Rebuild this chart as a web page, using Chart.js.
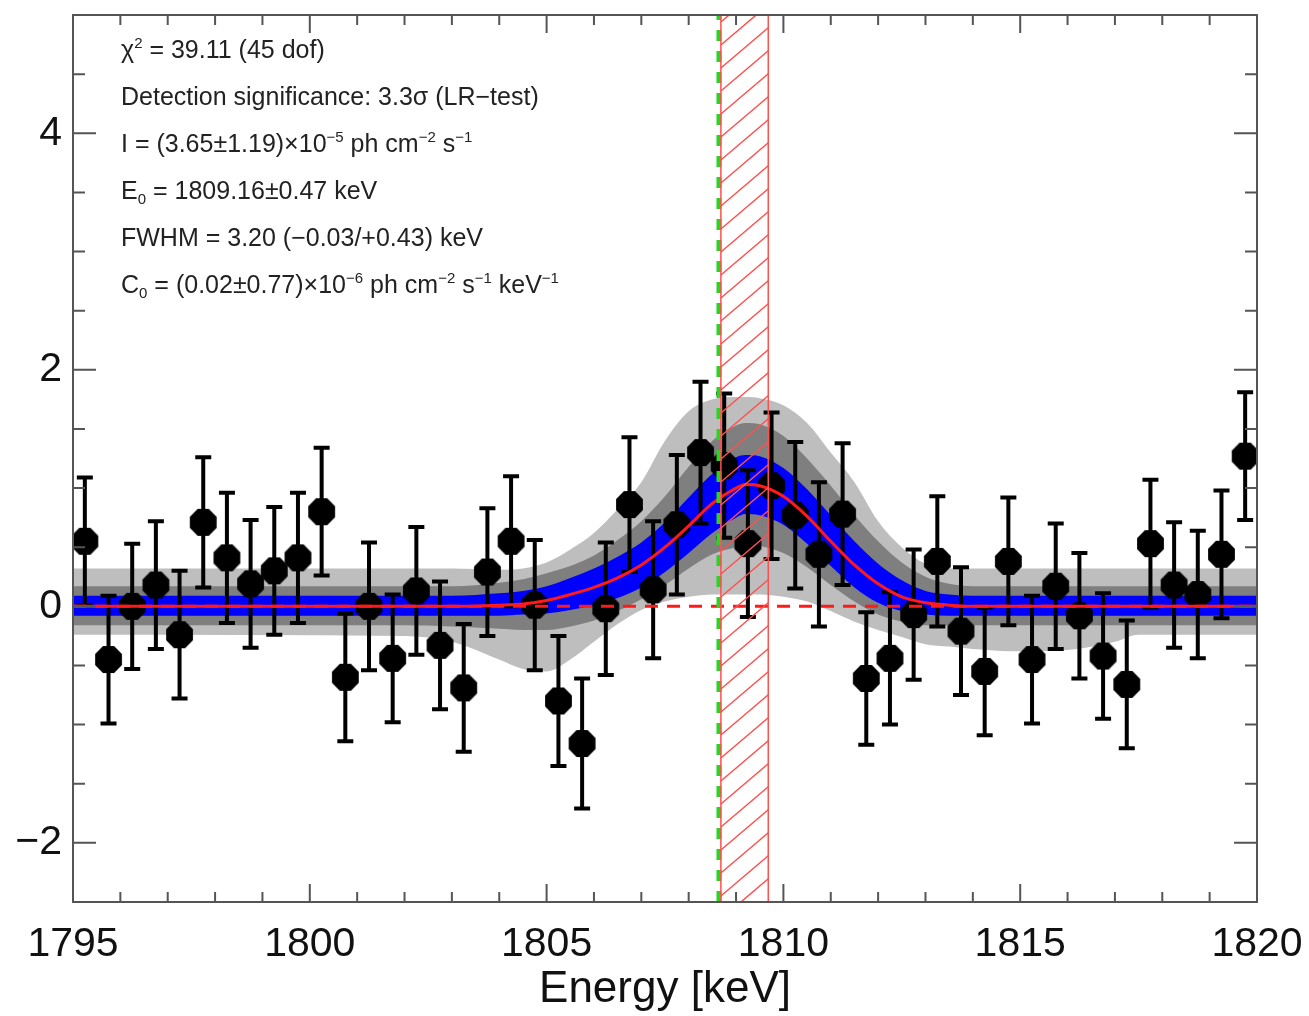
<!DOCTYPE html>
<html>
<head>
<meta charset="utf-8">
<script src="https://cdn.jsdelivr.net/npm/chart.js@4.4.0/dist/chart.umd.min.js"></script>
<style>
  html, body { margin: 0; padding: 0; background: #fff; }
  #wrap { position: relative; width: 1309px; height: 1016px; }
  #notes {
    position: absolute; left: 121px; top: 26px;
    font-family: "Liberation Sans", Arial, sans-serif; font-size: 25px; color: #222;
  }
  #notes div { height: 47px; line-height: 47px; white-space: nowrap; }
  #notes sup, #notes sub { font-size: 60%; line-height: 0; }
  #notes sup { vertical-align: 0.65em; }
  #notes sub { vertical-align: -0.3em; }
</style>
</head>
<body>
<div id="wrap">
  <canvas id="spectrum"></canvas>
  <div id="notes">
    <div>&chi;<sup>2</sup> = 39.11 (45 dof)</div>
    <div>Detection significance: 3.3&sigma; (LR&minus;test)</div>
    <div>I = (3.65&plusmn;1.19)&times;10<sup>&minus;5</sup> ph cm<sup>&minus;2</sup> s<sup>&minus;1</sup></div>
    <div>E<sub>0</sub> = 1809.16&plusmn;0.47 keV</div>
    <div>FWHM = 3.20 (&minus;0.03/+0.43) keV</div>
    <div>C<sub>0</sub> = (0.02&plusmn;0.77)&times;10<sup>&minus;6</sup> ph cm<sup>&minus;2</sup> s<sup>&minus;1</sup> keV<sup>&minus;1</sup></div>
  </div>
</div>
<script>
// measured spectrum (0.5 keV bins)
const energy = [1795.25, 1795.75, 1796.25, 1796.75, 1797.25, 1797.75, 1798.25, 1798.75, 1799.25, 1799.75,
                1800.25, 1800.75, 1801.25, 1801.75, 1802.25, 1802.75, 1803.25, 1803.75, 1804.25, 1804.75,
                1805.25, 1805.75, 1806.25, 1806.75, 1807.25, 1807.75, 1808.25, 1808.75, 1809.25, 1809.75,
                1810.25, 1810.75, 1811.25, 1811.75, 1812.25, 1812.75, 1813.25, 1813.75, 1814.25, 1814.75,
                1815.25, 1815.75, 1816.25, 1816.75, 1817.25, 1817.75, 1818.25, 1818.75, 1819.25, 1819.75];
const flux = [0.55, -0.45, 0.00, 0.18, -0.24, 0.71, 0.41, 0.19, 0.30, 0.41,
              0.80, -0.60, 0.00, -0.44, 0.13, -0.33, -0.69, 0.29, 0.55, 0.01,
              -0.80, -1.16, -0.02, 0.86, 0.14, 0.69, 1.30, 1.19, 0.53, 1.02,
              0.77, 0.44, 0.78, -0.61, -0.44, -0.07, 0.38, -0.21, -0.55, 0.38,
              -0.45, 0.17, -0.08, -0.42, -0.66, 0.53, 0.18, 0.10, 0.44, 1.27];
const fluxErr = [0.54, 0.54, 0.53, 0.54, 0.54, 0.55, 0.55, 0.54, 0.54, 0.55,
                 0.54, 0.54, 0.54, 0.54, 0.54, 0.54, 0.54, 0.54, 0.55, 0.55,
                 0.55, 0.55, 0.56, 0.57, 0.58, 0.59, 0.60, 0.61, 0.62, 0.62,
                 0.62, 0.61, 0.60, 0.56, 0.56, 0.55, 0.55, 0.54, 0.54, 0.54,
                 0.54, 0.53, 0.53, 0.53, 0.54, 0.54, 0.53, 0.54, 0.54, 0.54];

// fitted model and uncertainty bands
const modelE = [1795, 1802, 1803, 1804, 1804.5, 1805, 1805.5, 1806, 1806.5, 1807, 1807.5, 1808, 1808.5, 1809, 1809.2,
                1809.5, 1810, 1810.5, 1811, 1811.5, 1812, 1812.5, 1813, 1813.5, 1814, 1815, 1816, 1817, 1817.5, 1820];
const model = [0, 0, 0, 0.01, 0.02, 0.05, 0.10, 0.16, 0.24, 0.35, 0.50, 0.68, 0.87, 1.00, 1.03,
               1.02, 0.93, 0.76, 0.55, 0.35, 0.19, 0.08, 0.03, 0.01, 0, 0, 0, 0, 0, 0];
const blueHi = [0.09, 0.09, 0.09, 0.11, 0.13, 0.17, 0.24, 0.32, 0.42, 0.54, 0.71, 0.92, 1.12, 1.26, 1.28,
                1.27, 1.17, 0.99, 0.77, 0.55, 0.36, 0.22, 0.13, 0.10, 0.09, 0.09, 0.09, 0.09, 0.09, 0.09];
const blueLo = [-0.08, -0.08, -0.08, -0.08, -0.07, -0.06, -0.03, 0.01, 0.07, 0.16, 0.29, 0.45, 0.62, 0.75, 0.78,
                0.77, 0.69, 0.53, 0.34, 0.16, 0.03, -0.04, -0.07, -0.08, -0.08, -0.08, -0.08, -0.08, -0.08, -0.08];
const darkHi = [0.17, 0.17, 0.17, 0.20, 0.23, 0.28, 0.34, 0.43, 0.56, 0.72, 0.93, 1.18, 1.40, 1.53, 1.55,
                1.54, 1.44, 1.25, 1.02, 0.77, 0.55, 0.37, 0.25, 0.19, 0.17, 0.17, 0.17, 0.17, 0.17, 0.17];
const darkLo = [-0.16, -0.16, -0.17, -0.19, -0.20, -0.20, -0.17, -0.12, -0.04, 0.06, 0.18, 0.32, 0.44, 0.50, 0.52,
                0.51, 0.45, 0.33, 0.18, 0.04, -0.07, -0.13, -0.16, -0.16, -0.16, -0.16, -0.16, -0.16, -0.16, -0.16];
const lightHi = [0.32, 0.32, 0.32, 0.31, 0.32, 0.37, 0.48, 0.62, 0.82, 1.05, 1.40, 1.65, 1.75, 1.77, 1.77,
                 1.76, 1.70, 1.55, 1.30, 1.05, 0.72, 0.50, 0.36, 0.32, 0.32, 0.32, 0.32, 0.32, 0.32, 0.32];
const lightLo = [-0.24, -0.25, -0.30, -0.45, -0.53, -0.55, -0.45, -0.30, -0.15, -0.03, 0.04, 0.08, 0.10, 0.10, 0.10,
                 0.10, 0.08, 0.04, -0.04, -0.13, -0.20, -0.26, -0.32, -0.34, -0.36, -0.38, -0.37, -0.30, -0.24, -0.24];

// continuum, expected line position and fitted line window
const continuumE = [1795, 1820];
const continuum = [0, 0];
const expectedLine = 1808.64;
const lineWindow = [1808.68, 1809.68];

// axes
const xRange = [1795, 1820];
const yRange = [-2.5, 5];
const xMajor = [1795, 1800, 1805, 1810, 1815, 1820];
const yMajor = [-2, 0, 2, 4];

const FONT = '"Liberation Sans", Arial, Helvetica, sans-serif';

function pairs(xs, ys) {
    return xs.map((x, i) => ({ x: x, y: ys[i] }));
}

// octagon marker
function makeMarker(r) {
    const c = document.createElement('canvas');
    const s = Math.ceil(r * 2 + 2);
    c.width = s; c.height = s;
    const g = c.getContext('2d');
    g.fillStyle = '#000';
    g.beginPath();
    for (let k = 0; k < 8; k++) {
        const a = Math.PI / 8 + k * Math.PI / 4;
        const px = s / 2 + r * Math.cos(a), py = s / 2 + r * Math.sin(a);
        if (k === 0) g.moveTo(px, py); else g.lineTo(px, py);
    }
    g.closePath();
    g.fill();
    return c;
}

function band(label, ys, color, order, fillTo) {
    return {
        label: label,
        data: pairs(modelE, ys),
        showLine: true,
        borderWidth: 0,
        borderColor: 'rgba(0,0,0,0)',
        backgroundColor: color,
        pointRadius: 0,
        cubicInterpolationMode: 'monotone',
        fill: fillTo === undefined ? false : fillTo,
        order: order
    };
}

const datasets = [
    band('lightLo', lightLo, '#bebebe', 9),
    band('lightHi', lightHi, '#bebebe', 9, 0),
    band('darkLo', darkLo, '#7f7f7f', 8),
    band('darkHi', darkHi, '#7f7f7f', 8, 2),
    band('blueLo', blueLo, '#0000ff', 7),
    band('blueHi', blueHi, '#0000ff', 7, 4),
    {
        label: 'data',
        data: pairs(energy, flux),
        showLine: false,
        pointStyle: makeMarker(14.5),
        pointRadius: 14,
        order: 5
    },
    {
        label: 'continuum',
        data: pairs(continuumE, continuum),
        showLine: true,
        borderColor: '#ff1a1a',
        borderWidth: 3,
        borderDash: [13, 9],
        pointRadius: 0,
        order: 4
    },
    {
        label: 'model',
        data: pairs(modelE, model),
        showLine: true,
        borderColor: '#ff1a1a',
        borderWidth: 3,
        cubicInterpolationMode: 'monotone',
        pointRadius: 0,
        order: 3
    },
    {
        label: 'expected',
        data: [{ x: expectedLine, y: yRange[0] }, { x: expectedLine, y: yRange[1] }],
        showLine: true,
        borderColor: '#22d822',
        borderWidth: 5,
        borderDash: [11, 10],
        pointRadius: 0,
        order: 2
    }
];

const errorBars = {
    id: 'errorBars',
    beforeDatasetDraw(chart, args) {
        if (chart.data.datasets[args.index].label !== 'data') return;
        const xs = chart.scales.x, ys = chart.scales.y, ctx = chart.ctx;
        ctx.save();
        ctx.strokeStyle = '#000';
        ctx.lineWidth = 4;
        energy.forEach((e, i) => {
            const px = xs.getPixelForValue(e);
            const top = ys.getPixelForValue(flux[i] + fluxErr[i]);
            const bot = ys.getPixelForValue(flux[i] - fluxErr[i]);
            ctx.beginPath();
            ctx.moveTo(px, top); ctx.lineTo(px, bot);
            ctx.moveTo(px - 8, top); ctx.lineTo(px + 8, top);
            ctx.moveTo(px - 8, bot); ctx.lineTo(px + 8, bot);
            ctx.stroke();
        });
        ctx.restore();
    }
};

const frame = {
    id: 'frame',
    afterDatasetsDraw(chart) {
        const ctx = chart.ctx, a = chart.chartArea;
        const xs = chart.scales.x, ys = chart.scales.y;
        // hatched line window
        const x0 = xs.getPixelForValue(lineWindow[0]), x1 = xs.getPixelForValue(lineWindow[1]);
        ctx.save();
        ctx.beginPath();
        ctx.rect(x0, a.top, x1 - x0, a.bottom - a.top);
        ctx.clip();
        ctx.strokeStyle = '#ff5050';
        ctx.lineWidth = 1.5;
        const slope = 0.85, gap = 23;
        ctx.beginPath();
        for (let y = a.top - 200; y < a.bottom + 200; y += gap) {
            ctx.moveTo(x0, y);
            ctx.lineTo(x1, y - (x1 - x0) * slope);
        }
        ctx.stroke();
        ctx.restore();
        ctx.save();
        ctx.strokeStyle = '#ff5050';
        ctx.lineWidth = 1.5;
        ctx.strokeRect(x0, a.top, x1 - x0, a.bottom - a.top);
        ctx.restore();

        // box and inward ticks
        ctx.save();
        ctx.strokeStyle = '#555';
        ctx.lineWidth = 2;
        ctx.beginPath();
        for (let v = xRange[0]; v <= xRange[1]; v += 1) {
            const px = xs.getPixelForValue(v);
            const len = xMajor.includes(v) ? 18 : 10;
            ctx.moveTo(px, a.bottom); ctx.lineTo(px, a.bottom - len);
            ctx.moveTo(px, a.top); ctx.lineTo(px, a.top + len);
        }
        for (let v = yRange[0]; v <= yRange[1]; v += 0.5) {
            const py = ys.getPixelForValue(v);
            const len = yMajor.includes(v) ? 23 : 12;
            ctx.moveTo(a.left, py); ctx.lineTo(a.left + len, py);
            ctx.moveTo(a.right, py); ctx.lineTo(a.right - len, py);
        }
        ctx.stroke();
        ctx.strokeRect(a.left, a.top, a.right - a.left, a.bottom - a.top);
        ctx.restore();
    }
};

new Chart(document.getElementById('spectrum'), {
    type: 'scatter',
    data: { datasets: datasets },
    plugins: [errorBars, frame],
    options: {
        responsive: true,
        maintainAspectRatio: false,
        animation: false,
        layout: { padding: { top: 10, right: 52, left: 0, bottom: 0 } },
        plugins: {
            legend: { display: false },
            tooltip: { enabled: false }
        },
        scales: {
            x: {
                type: 'linear',
                min: xRange[0],
                max: xRange[1],
                afterBuildTicks: function(scale) {
                    scale.ticks = xMajor.map(v => ({ value: v }));
                },
                afterFit: function(scale) {
                    scale.height = 114;
                    scale.paddingLeft = 0;
                    scale.paddingRight = 0;
                },
                grid: { display: false, drawTicks: false },
                border: { display: false },
                ticks: {
                    autoSkip: false,
                    maxRotation: 0,
                    padding: 18,
                    color: '#111',
                    font: { family: FONT, size: 41 },
                    callback: function(value) { return String(value); }
                },
                title: {
                    display: true,
                    text: 'Energy [keV]',
                    color: '#111',
                    font: { family: FONT, size: 44 },
                    padding: { top: 0, bottom: 0 }
                }
            },
            y: {
                min: yRange[0],
                max: yRange[1],
                afterBuildTicks: function(scale) {
                    scale.ticks = yMajor.map(v => ({ value: v }));
                },
                afterFit: function(scale) {
                    scale.width = 73;
                    scale.paddingTop = 0;
                    scale.paddingBottom = 0;
                },
                grid: { display: false, drawTicks: false },
                border: { display: false },
                ticks: {
                    autoSkip: false,
                    padding: 11,
                    color: '#111',
                    font: { family: FONT, size: 41 },
                    callback: function(value) {
                        return value < 0 ? '\u2212' + Math.abs(value) : String(value);
                    }
                }
            }
        }
    }
});
</script>
</body>
</html>
